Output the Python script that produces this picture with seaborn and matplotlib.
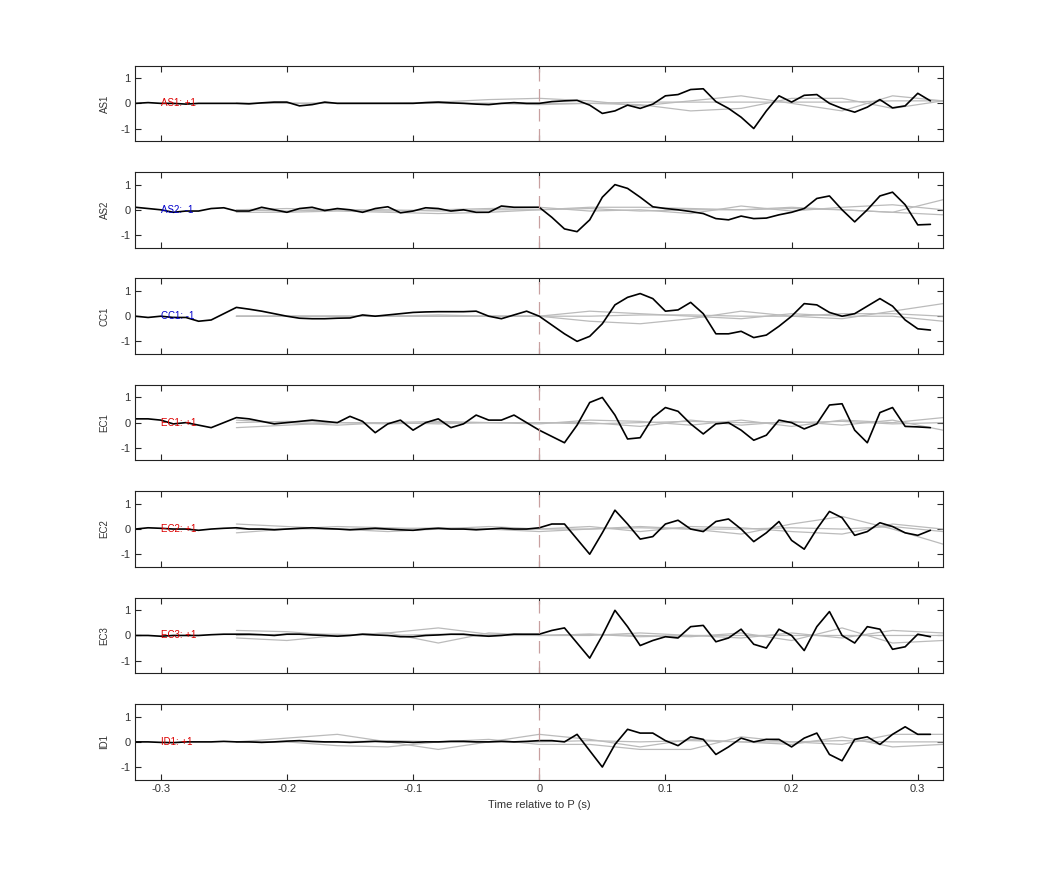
import numpy as np
import matplotlib
matplotlib.use("Agg")
from matplotlib import pyplot as plt
import seaborn as sns

# station names, polarity labels and their colours
stations = ['AS1', 'AS2', 'CC1', 'EC1', 'EC2', 'EC3', 'ID1']
polarity = ['+1', '-1', '-1', '+1', '+1', '+1', '+1']
pol_colors = ['#dd0000', '#0000cc', '#0000cc', '#dd0000', '#dd0000', '#dd0000', '#dd0000']

# observed traces, every 0.01 s: pre = -0.32..-0.01, post = 0.00..0.31
t_obs = np.round(np.arange(-32, 32) * 0.01, 2)
obs_pre = {
    'AS1': [0.0, 0.03, 0.0, 0.0, -0.03, 0.0, 0.0, 0.0, 0.0, -0.02, 0.02, 0.05, 0.05, -0.1, -0.05, 0.05,
            0.0, 0.0, 0.0, 0.0, 0.0, 0.0, 0.0, 0.03, 0.05, 0.02, 0.0, -0.03, -0.05, 0.0, 0.03, 0.0],
    'AS2': [0.1, 0.05, 0.0, -0.1, -0.05, -0.05, 0.05, 0.08, -0.05, -0.05, 0.1, 0.0, -0.1, 0.05, 0.1, -0.03,
            0.05, 0.0, -0.1, 0.05, 0.12, -0.12, -0.05, 0.08, 0.05, -0.05, 0.0, -0.1, -0.1, 0.15, 0.1, 0.1],
    'CC1': [0.0, -0.05, 0.0, -0.05, -0.05, -0.2, -0.15, 0.1, 0.35, 0.28, 0.2, 0.1, 0.0, -0.08, -0.1, -0.1,
            -0.08, -0.07, 0.05, 0.0, 0.05, 0.1, 0.15, 0.17, 0.18, 0.18, 0.18, 0.2, 0.0, -0.1, 0.05, 0.2],
    'EC1': [0.15, 0.15, 0.1, -0.05, 0.0, -0.1, -0.2, 0.0, 0.2, 0.15, 0.05, -0.05, 0.0, 0.05, 0.1, 0.05,
            0.0, 0.25, 0.05, -0.4, -0.05, 0.1, -0.3, 0.0, 0.15, -0.2, -0.05, 0.3, 0.1, 0.1, 0.3, 0.0],
    'EC2': [0.0, 0.05, 0.03, 0.0, 0.0, -0.05, 0.0, 0.03, 0.05, 0.0, 0.0, -0.03, 0.0, 0.03, 0.05, 0.02,
            0.0, -0.03, 0.0, 0.03, 0.0, -0.03, -0.05, 0.0, 0.03, 0.0, 0.0, -0.03, 0.0, 0.03, 0.0, 0.0],
    'EC3': [0.0, 0.0, -0.03, 0.0, 0.0, 0.0, 0.03, 0.05, 0.05, 0.05, 0.03, 0.0, 0.05, 0.05, 0.02, 0.0,
            -0.03, 0.0, 0.05, 0.02, 0.0, -0.05, -0.05, 0.0, 0.02, 0.05, 0.05, 0.0, -0.03, 0.0, 0.05, 0.05],
    'ID1': [0.0, 0.0, -0.02, -0.03, 0.0, 0.0, 0.0, 0.02, 0.0, 0.0, -0.02, 0.0, 0.03, 0.05, 0.02, 0.0,
            0.0, -0.02, 0.0, 0.02, 0.0, 0.0, -0.02, 0.0, 0.0, 0.02, 0.02, 0.0, 0.0, 0.02, 0.0, 0.02],
}
obs_post = {
    'AS1': [0.0, 0.07, 0.1, 0.12, -0.07, -0.4, -0.3, -0.07, -0.2, -0.03, 0.3, 0.35, 0.55, 0.58, 0.07, -0.2,
            -0.55, -1.0, -0.3, 0.3, 0.05, 0.32, 0.35, 0.0, -0.2, -0.35, -0.15, 0.15, -0.18, -0.1, 0.4, 0.1],
    'AS2': [0.1, -0.3, -0.76, -0.87, -0.4, 0.5, 1.0, 0.85, 0.5, 0.12, 0.05, 0.0, -0.07, -0.15, -0.35, -0.4,
            -0.25, -0.35, -0.33, -0.2, -0.1, 0.05, 0.45, 0.55, 0.0, -0.48, 0.0, 0.55, 0.7, 0.2, -0.6, -0.58],
    'CC1': [0.0, -0.35, -0.7, -1.0, -0.8, -0.3, 0.45, 0.75, 0.9, 0.7, 0.2, 0.25, 0.55, 0.1, -0.7, -0.7,
            -0.6, -0.85, -0.75, -0.4, 0.0, 0.5, 0.45, 0.15, 0.0, 0.1, 0.4, 0.7, 0.4, -0.15, -0.5, -0.55],
    'EC1': [-0.3, -0.55, -0.8, -0.1, 0.8, 1.0, 0.3, -0.65, -0.6, 0.2, 0.6, 0.45, -0.05, -0.45, -0.05, 0.0,
            -0.3, -0.7, -0.5, 0.1, 0.0, -0.25, -0.05, 0.7, 0.75, -0.3, -0.8, 0.4, 0.6, -0.15, -0.17, -0.2],
    'EC2': [0.05, 0.2, 0.2, -0.4, -1.0, -0.15, 0.75, 0.2, -0.4, -0.3, 0.2, 0.35, 0.0, -0.1, 0.3, 0.4,
            0.0, -0.5, -0.15, 0.3, -0.45, -0.8, 0.0, 0.7, 0.45, -0.25, -0.1, 0.25, 0.1, -0.15, -0.25, -0.05],
    'EC3': [0.05, 0.2, 0.3, -0.3, -0.9, 0.0, 1.0, 0.35, -0.4, -0.2, -0.05, -0.1, 0.35, 0.4, -0.25, -0.1,
            0.25, -0.35, -0.5, 0.25, 0.0, -0.6, 0.35, 0.95, 0.0, -0.3, 0.35, 0.25, -0.55, -0.45, 0.05, -0.05],
    'ID1': [0.05, 0.05, 0.0, 0.3, -0.35, -1.0, -0.1, 0.5, 0.35, 0.35, 0.05, -0.15, 0.2, 0.1, -0.5, -0.2,
            0.15, 0.0, 0.1, 0.1, -0.2, 0.15, 0.35, -0.5, -0.75, 0.1, 0.2, -0.1, 0.3, 0.6, 0.3, 0.3],
}

# synthetic (gray) traces, every 0.04 s from -0.24 to 0.32
t_syn = np.round(np.arange(-6, 9) * 0.04, 2)
syn = {
    'AS1': [[0.0, 0.0, 0.0, 0.0, 0.0, 0.0, 0.0, 0.0, -0.05, -0.3, -0.2, 0.2, 0.2, -0.2, 0.1],
            [0.0, 0.0, 0.0, 0.0, 0.05, 0.15, 0.2, 0.1, -0.1, 0.1, 0.3, 0.0, -0.3, 0.3, 0.1],
            [0.0, 0.0, 0.0, 0.0, 0.0, 0.0, -0.05, 0.0, 0.05, 0.05, 0.05, 0.05, 0.05, 0.1, 0.1]],
    'AS2': [[-0.1, -0.1, -0.05, -0.1, -0.15, -0.1, 0.0, 0.1, 0.1, 0.05, 0.0, 0.1, 0.0, -0.1, 0.4],
            [0.0, 0.05, 0.0, -0.05, 0.0, 0.05, 0.1, -0.05, 0.0, -0.15, 0.15, -0.05, 0.1, 0.2, 0.0],
            [0.0, -0.05, 0.0, 0.0, -0.05, 0.0, 0.0, 0.05, -0.05, 0.0, 0.0, 0.05, 0.0, -0.1, -0.2]],
    'CC1': [[0.0, 0.0, 0.0, 0.0, 0.0, 0.0, 0.0, -0.2, -0.3, -0.1, 0.2, 0.0, -0.1, 0.2, 0.5],
            [0.0, 0.0, 0.0, 0.0, 0.0, 0.0, 0.0, 0.2, 0.1, 0.0, -0.1, 0.1, 0.0, 0.0, -0.2],
            [0.0, 0.0, 0.0, 0.0, 0.05, 0.0, 0.0, 0.0, 0.05, 0.05, 0.0, 0.0, 0.1, 0.1, 0.0]],
    'EC1': [[-0.2, -0.1, 0.0, 0.0, -0.05, 0.0, 0.0, 0.0, -0.15, 0.1, -0.1, 0.05, -0.1, 0.1, -0.3],
            [0.1, 0.0, -0.1, 0.0, 0.05, 0.0, -0.05, 0.1, 0.05, -0.1, 0.1, -0.15, 0.1, 0.0, 0.2],
            [0.0, 0.05, 0.0, -0.05, 0.0, 0.0, 0.0, -0.05, 0.0, 0.05, 0.0, 0.0, 0.05, -0.05, 0.0]],
    'EC2': [[0.2, 0.1, 0.0, -0.1, 0.0, 0.0, -0.1, 0.0, 0.1, 0.0, -0.2, 0.2, 0.5, 0.0, -0.6],
            [-0.15, 0.0, 0.1, 0.05, 0.0, 0.1, 0.0, 0.1, -0.1, 0.1, 0.05, -0.1, -0.2, 0.2, 0.0],
            [0.0, 0.0, 0.0, 0.0, 0.05, 0.0, 0.0, 0.0, 0.05, 0.0, 0.0, 0.05, 0.0, 0.1, -0.1]],
    'EC3': [[0.2, 0.15, 0.0, 0.1, 0.3, 0.05, 0.0, 0.05, 0.0, -0.05, 0.1, -0.2, 0.3, -0.3, -0.2],
            [-0.1, -0.2, 0.0, 0.1, -0.3, 0.1, 0.0, 0.0, 0.1, 0.0, -0.1, 0.1, -0.1, 0.2, 0.1],
            [0.0, 0.05, 0.05, 0.0, 0.05, 0.0, 0.0, 0.05, -0.05, 0.0, 0.0, 0.0, 0.0, 0.0, 0.0]],
    'ID1': [[0.0, 0.15, 0.3, 0.0, -0.3, 0.0, 0.3, 0.1, -0.2, 0.1, 0.0, -0.1, 0.2, -0.2, -0.1],
            [0.0, 0.0, -0.15, -0.2, 0.0, 0.1, -0.1, -0.1, -0.3, -0.3, 0.2, 0.0, -0.1, 0.3, 0.3],
            [0.0, 0.0, 0.0, 0.05, 0.0, 0.0, 0.0, 0.05, 0.0, 0.05, 0.0, 0.0, 0.05, 0.0, 0.0]],
}

sns.set_theme(style='ticks')
plt.rcParams['font.family'] = ['Liberation Sans', 'DejaVu Sans']
plt.rcParams['axes.unicode_minus'] = False

fig, axes = plt.subplots(len(stations), 1, figsize=(10.42, 8.75), dpi=100, sharex=True)
fig.subplots_adjust(left=0.13, right=0.905, top=0.925, bottom=0.109, hspace=0.41)

for ax, st, pol, pc in zip(axes, stations, polarity, pol_colors):
    for s in syn[st]:
        sns.lineplot(x=t_syn, y=s, ax=ax, color='#bbbbbb', lw=0.9)
    sns.lineplot(x=t_obs, y=obs_pre[st] + obs_post[st], ax=ax, color='black', lw=1.2)
    ax.axvline(0, color='#c8a0a0', lw=0.9, ls=(0, (10, 6)))
    ax.text(-0.3, 0, f'{st}: {pol}', color=pc, fontsize=7, va='center', ha='left')
    ax.set_xlim(-0.32, 0.32)
    ax.set_ylim(-1.5, 1.5)
    ax.set_yticks([-1, 0, 1])
    ax.set_xticks([-0.3, -0.2, -0.1, 0, 0.1, 0.2, 0.3])
    ax.set_xticklabels(['-0.3', '-0.2', '-0.1', '0', '0.1', '0.2', '0.3'])
    ax.set_ylabel(st, fontsize=7, labelpad=8, color='#333333')
    ax.tick_params(direction='in', top=True, right=True, labelsize=8, length=4, width=0.8,
                   labelcolor='#333333')
    for sp in ax.spines.values():
        sp.set_linewidth(0.8)
        sp.set_color('#222222')

axes[-1].set_xlabel('Time relative to P (s)', fontsize=8, color='#333333')
fig.savefig('out.png')
